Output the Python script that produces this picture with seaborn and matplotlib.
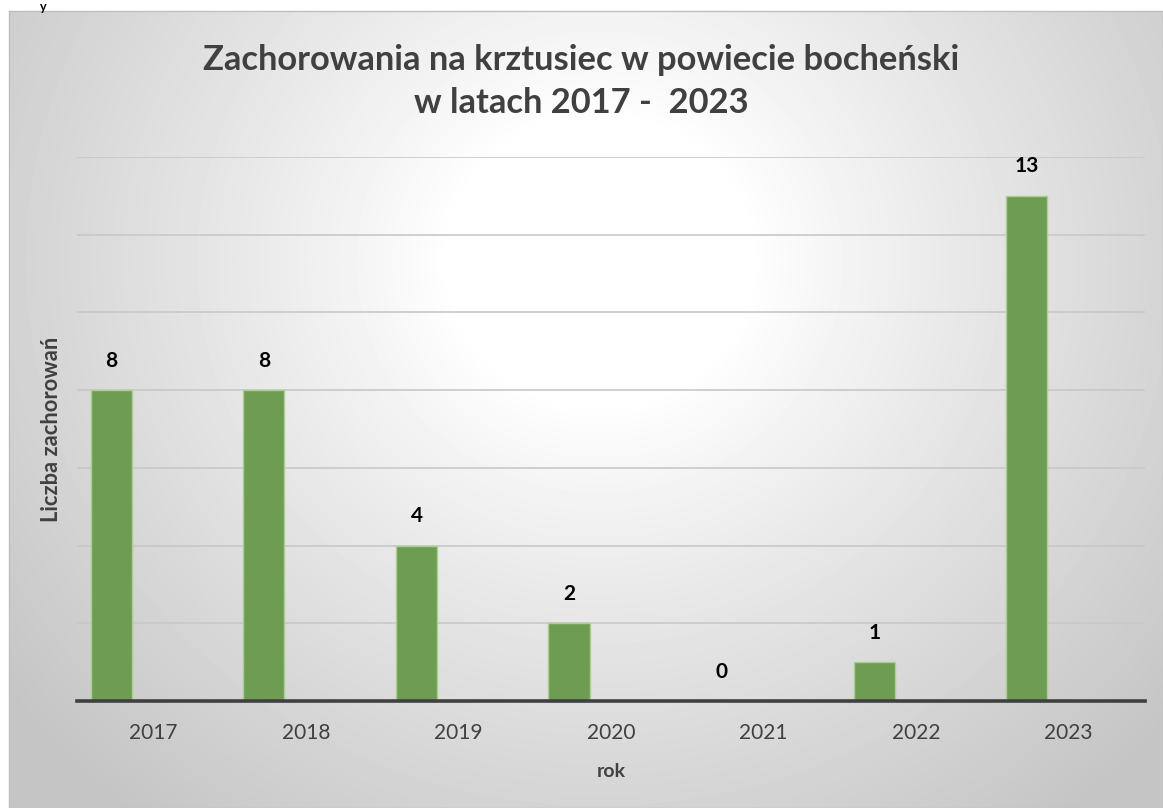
import numpy as np
import pandas as pd
import matplotlib
matplotlib.use('Agg')
import matplotlib.pyplot as plt
import seaborn as sns

# data
years = ['2017', '2018', '2019', '2020', '2021', '2022', '2023']
cases = [8, 8, 4, 2, 0, 1, 13]

df = pd.DataFrame({'rok': years, 'liczba': cases})

sns.set_theme(style='white')
plt.rcParams['font.family'] = ['Lato', 'DejaVu Sans']

W, H = 1163, 808
fig = plt.figure(figsize=(W / 100, H / 100), dpi=100)
fig.patch.set_facecolor('white')

# radial gradient background of the chart area
bg = fig.add_axes([9 / W, 0, 1 - 9 / W, (H - 11) / H], zorder=-10)
yy, xx = np.mgrid[0:797, 0:1154]
r = np.sqrt((xx - 590) ** 2 + ((yy - 250) / 0.95) ** 2)
shade = np.clip((r - 150) / 600, 0, 1) ** 0.9
img = 1 - shade * (1 - 0.77)
bg.imshow(img, cmap='gray', vmin=0, vmax=1, aspect='auto', interpolation='bilinear')
bg.set_xticks([])
bg.set_yticks([])
for s in bg.spines.values():
    s.set_color('#BFBFBF')
    s.set_linewidth(1)

# small text fragment above the chart
fig.text(40 / W, 1 - 1 / H, 'y', fontsize=9, fontweight='bold', color='black',
         va='top', ha='left')

ax = fig.add_axes([77 / W, (H - 701) / H, 1068 / W, 544 / H])
ax.patch.set_alpha(0)

sns.barplot(data=df, x='rok', y='liczba', color='#6F9C53', width=0.27,
            edgecolor='#A9D08E', linewidth=1, saturation=1, ax=ax, zorder=3)
for p in ax.patches:
    p.set_x(p.get_x() - 0.275)
ax.bar_label(ax.containers[0], labels=[str(v) for v in cases], padding=14,
             fontsize=15, fontweight='bold', color='black')

ax.set_xlim(-0.5, 6.5)
ax.set_ylim(0, 14)
ax.set_yticks(np.arange(0, 15, 2))
ax.set_yticklabels([])
ax.yaxis.grid(True, color='#C8C8C8', linewidth=1.2, zorder=0)
ax.set_axisbelow(True)
for side in ['left', 'right', 'top']:
    ax.spines[side].set_visible(False)
ax.spines['bottom'].set_color('#404040')
ax.spines['bottom'].set_linewidth(2.6)
ax.spines['bottom'].set_zorder(5)
ax.tick_params(axis='x', length=0, pad=16, labelsize=15, labelcolor='#404040')
ax.tick_params(axis='y', length=0)

ax.set_xlabel('rok', fontsize=14, fontweight='bold', color='#404040', labelpad=14)
ylab = ax.set_ylabel('Liczba zachorowań', fontsize=15, fontweight='bold',
                     color='#404040', labelpad=7)

t1 = fig.text(0.5, 1 - 60 / H, 'Zachorowania na krztusiec w powiecie bocheński',
              ha='center', va='center', fontsize=25, fontweight='bold', color='#404040')
t2 = fig.text(0.5, 1 - 103 / H, 'w latach 2017 -  2023',
              ha='center', va='center', fontsize=25, fontweight='bold', color='#404040')

# fit title width and y-label length to the reference
fig.canvas.draw()
rend = fig.canvas.get_renderer()
w1 = t1.get_window_extent(rend).width
fs = 25 * 758 / w1
t1.set_fontsize(fs)
t2.set_fontsize(fs)
hl = ylab.get_window_extent(rend).height
ylab.set_fontsize(15 * 185 / hl)

fig.savefig('out.png', dpi=100)
